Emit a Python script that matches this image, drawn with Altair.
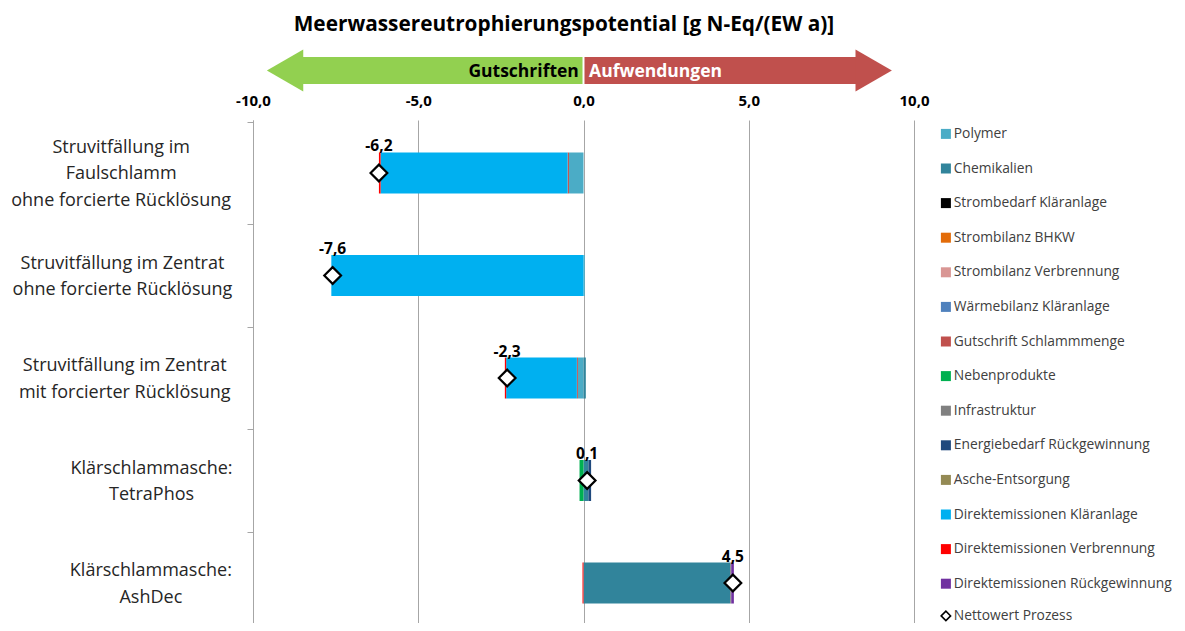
import altair as alt
import pandas as pd

# ---------------- data ----------------
categories = [
    "Struvitfällung im Faulschlamm ohne forcierte Rücklösung",
    "Struvitfällung im Zentrat ohne forcierte Rücklösung",
    "Struvitfällung im Zentrat mit forcierter Rücklösung",
    "Klärschlammasche: TetraPhos",
    "Klärschlammasche: AshDec",
]
category_lines = [
    ["Struvitfällung im", "Faulschlamm", "ohne forcierte Rücklösung"],
    ["Struvitfällung im Zentrat", "ohne forcierte Rücklösung"],
    ["Struvitfällung im Zentrat", "mit forcierter Rücklösung"],
    ["Klärschlammasche:", "TetraPhos"],
    ["Klärschlammasche:", "AshDec"],
]

components = [
    "Polymer", "Chemikalien", "Strombedarf Kläranlage", "Strombilanz BHKW",
    "Strombilanz Verbrennung", "Wärmebilanz Kläranlage", "Gutschrift Schlammmenge",
    "Nebenprodukte", "Infrastruktur", "Energiebedarf Rückgewinnung",
    "Asche-Entsorgung", "Direktemissionen Kläranlage",
    "Direktemissionen Verbrennung", "Direktemissionen Rückgewinnung",
]

# values per component, one per category (g N-Eq/(EW a))
polymer = [-0.44, 0.04, -0.17, 0.0, 0.0]
chemikalien = [0.0, 0.0, 0.07, 0.15, 4.44]
strombedarf_ka = [0.0, 0.0, 0.0, 0.0, 0.0]
strombilanz_bhkw = [0.0, 0.0, 0.0, 0.0, 0.0]
strombilanz_verbr = [0.0, 0.0, 0.0, 0.0, 0.0]
waermebilanz_ka = [0.0, 0.0, 0.0, 0.0, 0.0]
gutschrift_schlamm = [-0.04, 0.0, -0.03, 0.0, 0.0]
nebenprodukte = [0.0, 0.0, 0.0, -0.12, 0.0]
infrastruktur = [0.0, 0.0, 0.0, 0.0, 0.03]
energie_rueck = [0.0, 0.0, 0.0, 0.08, 0.0]
asche = [0.0, 0.0, 0.0, 0.0, 0.0]
direkt_ka = [-5.66, -7.63, -2.14, 0.0, 0.0]
direkt_verbr = [-0.05, 0.0, -0.04, 0.0, -0.03]
direkt_rueck = [0.0, 0.0, 0.0, 0.0, 0.08]

series = [polymer, chemikalien, strombedarf_ka, strombilanz_bhkw, strombilanz_verbr,
          waermebilanz_ka, gutschrift_schlamm, nebenprodukte, infrastruktur,
          energie_rueck, asche, direkt_ka, direkt_verbr, direkt_rueck]

# ---------------- styles / layout ----------------
colors = ["#4BACC6", "#31849B", "#000000", "#E36C09", "#D99694", "#4F81BD",
          "#C0504D", "#00B050", "#808080", "#1F497D", "#948A54", "#00B0F0",
          "#FF0000", "#7030A0"]
FONT = "Open Sans"
GRID = "#A6A6A6"
label_center_x = [-13.99, -13.95, -13.88, -13.07, -13.09]  # x-units, category label centers
LINE_STEP = 26.5 / 102.5 / 2  # half a text line, in y-units

rows = []
for ci, cat in enumerate(categories):
    for si, comp in enumerate(components):
        v = series[si][ci]
        if v != 0:
            rows.append({"idx": ci, "cat": cat, "component": comp, "order": si, "value": v})
df = pd.DataFrame(rows)

cat_df = pd.DataFrame({"idx": list(range(len(categories))), "lines": category_lines,
                       "cx": label_center_x})

FMT = "replace(replace(format({v}, '.1f'), '.', ','), '\u2212', '-')"

xscale = alt.Scale(domain=[-10, 10], nice=False, zero=False)
yscale = alt.Scale(domain=[-0.517, 4.390], reverse=True, nice=False, zero=False)
xaxis = alt.Axis(orient="top", values=[-10, -5, 0, 5, 10],
                 labelExpr=FMT.format(v="datum.value"), labelFlush=False,
                 labelFont=FONT, labelFontSize=15, labelFontWeight="bold", labelColor="#000000",
                 ticks=False, tickSize=0, domain=False, grid=True, gridColor=GRID,
                 gridWidth=1, labelPadding=12, title=None)
yaxis = alt.Axis(values=[-0.5, 0.5, 1.5, 2.5, 3.5], labels=False, ticks=True, tickSize=6,
                 tickColor=GRID, domain=True, domainColor=GRID, grid=False, title=None)

LEG = dict(title=None, orient="none", legendX=686, labelFont=FONT, labelFontSize=13.8,
           labelColor="#404040", labelOffset=1, padding=0, labelLimit=400,
           direction="vertical")

base = alt.Chart(df)

bars = base.transform_stack(
    stack="value", as_=["v0", "v1"], groupby=["idx"],
    sort=[alt.SortField("order", order="ascending")]
).transform_calculate(
    ya="datum.idx - 0.2", yb="datum.idx + 0.2"
).mark_rect().encode(
    x=alt.X("v0:Q", scale=xscale, axis=xaxis, title=None),
    x2="v1:Q",
    y=alt.Y("ya:Q", scale=yscale, axis=yaxis, title=None),
    y2="yb:Q",
    color=alt.Color("component:N", scale=alt.Scale(domain=components, range=colors),
                    legend=alt.Legend(legendY=7, symbolType="square", symbolSize=100,
                                      symbolStrokeWidth=0, rowPadding=19.6, **LEG)),
    tooltip=["cat:N", "component:N", "value:Q"],
)

net = base.transform_aggregate(net="sum(value)", groupby=["idx"]).transform_calculate(
    lab="'Nettowert Prozess'",
    txt=FMT.format(v="datum.net"),
    ytop="datum.idx - 0.2",
)

points = net.mark_point(filled=False, fill="white", shape="diamond", strokeWidth=2.2,
                        size=280, opacity=1, fillOpacity=1).encode(
    x=alt.X("net:Q", scale=xscale, axis=xaxis, title=None),
    y=alt.Y("idx:Q", scale=yscale, axis=yaxis, title=None),
    color=alt.Color("lab:N", scale=alt.Scale(domain=["Nettowert Prozess"], range=["#000000"]),
                    legend=alt.Legend(legendY=489, symbolType="diamond", symbolSize=90,
                                      symbolFillColor="white", symbolStrokeColor="black",
                                      symbolStrokeWidth=1.5, **LEG)),
)

net_labels = net.mark_text(font=FONT, fontSize=15.5, fontWeight="bold", color="#000000",
                           baseline="alphabetic", align="center", dy=-1).encode(
    x=alt.X("net:Q", scale=xscale, axis=xaxis, title=None),
    y=alt.Y("ytop:Q", scale=yscale, axis=yaxis, title=None),
    text="txt:N",
)

cat_labels = alt.Chart(cat_df).transform_calculate(
    ly=f"datum.idx - (length(datum.lines) - 1) * {LINE_STEP}"
).mark_text(font=FONT, fontSize=18, color="#262626", align="center", baseline="middle",
            lineHeight=26.5, dy=1.5).encode(
    x=alt.X("cx:Q", scale=xscale, axis=xaxis, title=None),
    y=alt.Y("ly:Q", scale=yscale, axis=yaxis, title=None),
    text="lines",
)

# header arrows (Gutschriften / Aufwendungen)
arrow_df = pd.DataFrame({
    "x0": [-8.50, 0.03], "x1": [-0.03, 8.25], "head": [-9.03, 8.78],
    "col": ["#92D050", "#C0504D"],
    "txt": ["Gutschriften", "Aufwendungen"], "tx": [-0.14, 0.17],
})
arrow_body = alt.Chart(arrow_df).mark_rect().encode(
    x=alt.X("x0:Q", scale=xscale, axis=xaxis, title=None), x2="x1:Q",
    y=alt.value(-63), y2=alt.value(-36),
    color=alt.Color("col:N", scale=None),
)
head_l = alt.Chart(arrow_df.iloc[[0]]).mark_point(
    filled=True, shape="triangle-left", size=1764, opacity=1, color="#92D050").encode(
    x=alt.X("head:Q", scale=xscale, axis=xaxis, title=None), y=alt.value(-49.5))
head_r = alt.Chart(arrow_df.iloc[[1]]).mark_point(
    filled=True, shape="triangle-right", size=1764, opacity=1, color="#C0504D").encode(
    x=alt.X("head:Q", scale=xscale, axis=xaxis, title=None), y=alt.value(-49.5))
arrow_txt_l = alt.Chart(arrow_df.iloc[[0]]).mark_text(
    font=FONT, fontSize=17.5, fontWeight="bold", color="#000000", align="right",
    baseline="middle").encode(
    x=alt.X("tx:Q", scale=xscale, axis=xaxis, title=None), y=alt.value(-48), text="txt:N")
arrow_txt_r = alt.Chart(arrow_df.iloc[[1]]).mark_text(
    font=FONT, fontSize=17.5, fontWeight="bold", color="#FFFFFF", align="left",
    baseline="middle").encode(
    x=alt.X("tx:Q", scale=xscale, axis=xaxis, title=None), y=alt.value(-48), text="txt:N")

title_df = pd.DataFrame({"t": ["Meerwassereutrophierungspotential [g N-Eq/(EW a)]"]})
title = alt.Chart(title_df).mark_text(font=FONT, fontSize=20.8, fontWeight="bold",
                                      color="#000000", align="center",
                                      baseline="middle").encode(
    x=alt.value(311), y=alt.value(-95), text="t:N")

chart = alt.layer(
    arrow_body, head_l, head_r, arrow_txt_l, arrow_txt_r, title,
    bars, points, net_labels, cat_labels,
).resolve_scale(
    color="independent"
).properties(
    width=661, height=503,
    padding={"left": 245, "top": 112, "right": 263, "bottom": 0},
    autosize=alt.AutoSizeParams(type="none"),
    background="white",
).configure_view(stroke=None)

chart.save("out.html", embed_options={"renderer": "svg", "actions": False})
